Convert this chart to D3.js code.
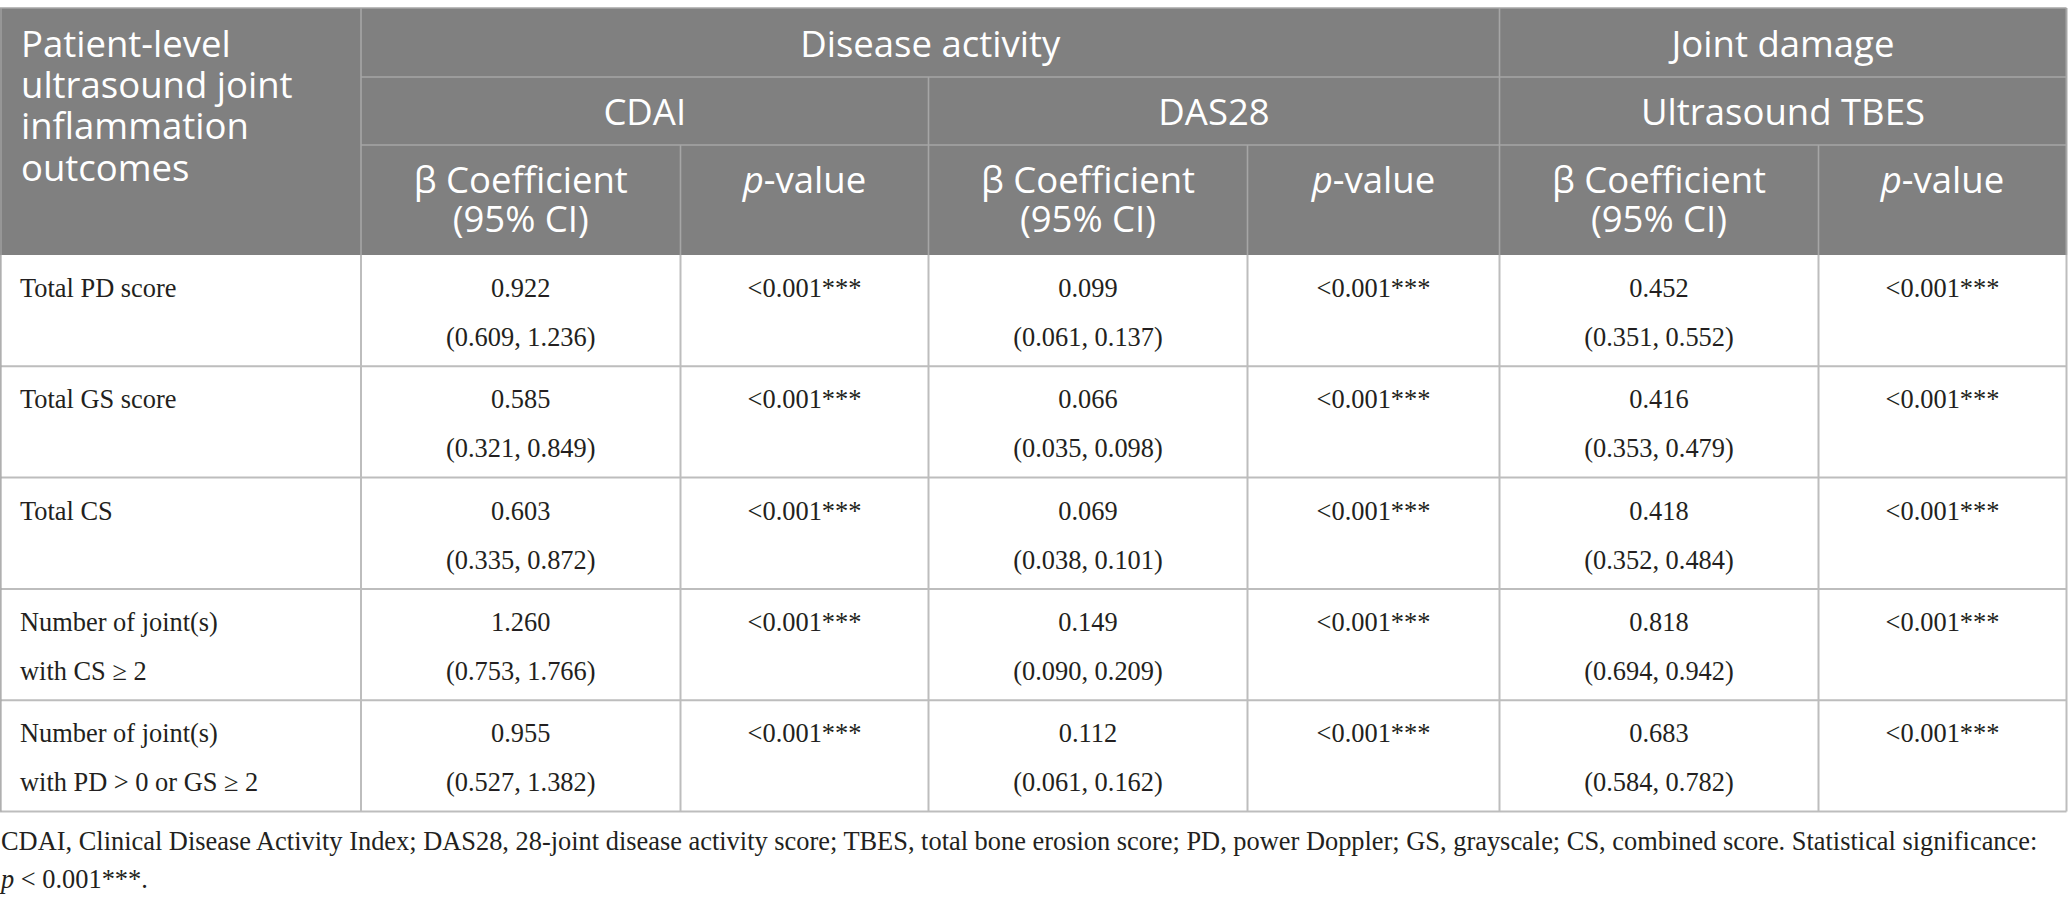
<!DOCTYPE html>
<html>
<head>
<meta charset="utf-8">
<script src="https://cdn.jsdelivr.net/npm/d3@7/dist/d3.min.js"></script>
<style>
  html, body { margin: 0; padding: 0; background: #ffffff; }
  svg { display: block; }
</style>
</head>
<body>
<script>
// ---------------- DATA ----------------
const rowLabels = [
  ["Total PD score"],
  ["Total GS score"],
  ["Total CS"],
  ["Number of joint(s)", "with CS \u2265 2"],
  ["Number of joint(s)", "with PD > 0 or GS \u2265 2"]
];
const cdaiBeta  = ["0.922", "0.585", "0.603", "1.260", "0.955"];
const cdaiCI    = ["(0.609, 1.236)", "(0.321, 0.849)", "(0.335, 0.872)", "(0.753, 1.766)", "(0.527, 1.382)"];
const cdaiP     = ["<0.001***", "<0.001***", "<0.001***", "<0.001***", "<0.001***"];
const das28Beta = ["0.099", "0.066", "0.069", "0.149", "0.112"];
const das28CI   = ["(0.061, 0.137)", "(0.035, 0.098)", "(0.038, 0.101)", "(0.090, 0.209)", "(0.061, 0.162)"];
const das28P    = ["<0.001***", "<0.001***", "<0.001***", "<0.001***", "<0.001***"];
const tbesBeta  = ["0.452", "0.416", "0.418", "0.818", "0.683"];
const tbesCI    = ["(0.351, 0.552)", "(0.353, 0.479)", "(0.352, 0.484)", "(0.694, 0.942)", "(0.584, 0.782)"];
const tbesP     = ["<0.001***", "<0.001***", "<0.001***", "<0.001***", "<0.001***"];

const stubHeader = ["Patient-level", "ultrasound joint", "inflammation", "outcomes"];
const groupHeaders = ["Disease activity", "Joint damage"];
const outcomeHeaders = ["CDAI", "DAS28", "Ultrasound TBES"];
const statHeaders = ["\u03B2 Coefficient|(95% CI)", "p-value"];
const footnoteLine1 = "CDAI, Clinical Disease Activity Index; DAS28, 28-joint disease activity score; TBES, total bone erosion score; PD, power Doppler; GS, grayscale; CS, combined score. Statistical significance:";
const footnoteLine2 = " < 0.001***.";

// ---------------- LAYOUT ----------------
const W = 2068, H = 908;
const colEdges = [0, 361, 680.5, 928.5, 1247.5, 1499.5, 1818.5, 2066.5];
const headTop = 8, head1 = 77, head2 = 145, headBottom = 255, tableBottom = 811.5;
const headFill = "#808080", headLine = "#a6a6a6", bodyLine = "#bdbdbd", ink = "#231f20";
const sansFont = "'Open Sans', 'Noto Sans', sans-serif";
const serifFont = "'Liberation Serif', 'DejaVu Serif', serif";

const svg = d3.select("body").append("svg").attr("width", W).attr("height", H);

// row band scale for body
const rowScale = d3.scaleBand().domain(d3.range(rowLabels.length)).range([headBottom, tableBottom]);
// column scales
const colX = d3.scaleOrdinal().domain(d3.range(colEdges.length)).range(colEdges);
const colMid = i => (colX(i) + colX(i + 1)) / 2;

// header background
svg.append("rect").attr("x", 0).attr("y", headTop).attr("width", colX(7)).attr("height", headBottom - headTop)
  .attr("fill", headFill);

// header lines
const hl = svg.append("g").attr("stroke", headLine).attr("stroke-width", 1.6);
hl.append("line").attr("x1", 0).attr("x2", colX(7)).attr("y1", headTop).attr("y2", headTop);
hl.append("line").attr("x1", colX(1)).attr("x2", colX(7)).attr("y1", head1).attr("y2", head1);
hl.append("line").attr("x1", colX(1)).attr("x2", colX(7)).attr("y1", head2).attr("y2", head2);
hl.append("line").attr("x1", colX(1)).attr("x2", colX(1)).attr("y1", headTop).attr("y2", headBottom);
hl.append("line").attr("x1", colX(5)).attr("x2", colX(5)).attr("y1", headTop).attr("y2", headBottom);
hl.append("line").attr("x1", colX(3)).attr("x2", colX(3)).attr("y1", head1).attr("y2", headBottom);
[2, 4, 6].forEach(i => hl.append("line").attr("x1", colX(i)).attr("x2", colX(i)).attr("y1", head2).attr("y2", headBottom));

// body lines
const bl = svg.append("g").attr("stroke", bodyLine).attr("stroke-width", 2);
rowLabels.forEach((d, i) => {
  const y = rowScale(i) + rowScale.bandwidth();
  bl.append("line").attr("x1", 0).attr("x2", colX(7)).attr("y1", y).attr("y2", y);
});
d3.range(colEdges.length).forEach(i => {
  bl.append("line").attr("x1", colX(i)).attr("x2", colX(i)).attr("y1", headBottom).attr("y2", tableBottom);
});
bl.append("line").attr("x1", 1).attr("x2", 1).attr("y1", headTop).attr("y2", tableBottom).attr("stroke", headLine).attr("stroke-width", 1.2);
bl.append("line").attr("x1", colX(7)).attr("x2", colX(7)).attr("y1", headTop).attr("y2", headBottom).attr("stroke", headLine);

// helper: multi-line text as one text element with tspans
function multiline(g, x, y, lines, dy, anchor) {
  const t = g.append("text").attr("x", x).attr("y", y).attr("text-anchor", anchor || "start");
  lines.forEach((s, j) => t.append("tspan").attr("x", x).attr("dy", j ? dy : 0).text(s));
  return t;
}

// header text
const ht = svg.append("g").attr("fill", "#ffffff").attr("font-family", sansFont).attr("font-size", 36.5);
multiline(ht, 21, 57, stubHeader, 41.2);
ht.append("text").attr("x", (colX(1) + colX(5)) / 2).attr("y", 56.5).attr("text-anchor", "middle").text(groupHeaders[0]);
ht.append("text").attr("x", (colX(5) + colX(7)) / 2).attr("y", 56.5).attr("text-anchor", "middle").text(groupHeaders[1]);
outcomeHeaders.forEach((t, k) => {
  ht.append("text").attr("x", (colX(1 + 2 * k) + colX(3 + 2 * k)) / 2).attr("y", 125).attr("text-anchor", "middle").text(t);
});
[1, 3, 5].forEach(c => {
  multiline(ht, colMid(c), 193, statHeaders[0].split("|"), 38.5, "middle");
  const pt = ht.append("text").attr("x", colMid(c + 1)).attr("y", 193).attr("text-anchor", "middle");
  pt.append("tspan").attr("font-style", "italic").text(statHeaders[1].charAt(0));
  pt.append("tspan").text(statHeaders[1].slice(1));
});

// body text
const bt = svg.append("g").attr("fill", ink).attr("font-family", serifFont).attr("font-size", 26.4);
const line1 = 42, line2 = 91;
const groups = [[cdaiBeta, cdaiCI, cdaiP], [das28Beta, das28CI, das28P], [tbesBeta, tbesCI, tbesP]];
rowLabels.forEach((lab, i) => {
  const top = rowScale(i);
  multiline(bt, 20, top + line1, lab, line2 - line1);
  groups.forEach((g, k) => {
    const cB = 1 + 2 * k, cP = 2 + 2 * k;
    multiline(bt, colMid(cB), top + line1, [g[0][i], g[1][i]], line2 - line1, "middle");
    bt.append("text").attr("x", colMid(cP)).attr("y", top + line1).attr("text-anchor", "middle").text(g[2][i]);
  });
});

// footnote
const ft = svg.append("g").attr("fill", ink).attr("font-family", serifFont).attr("font-size", 26.4);
const f1 = ft.append("text").attr("x", 1).attr("y", 850);
f1.append("tspan").text(footnoteLine1);
f1.append("tspan").attr("x", 1).attr("dy", 38).attr("font-style", "italic").text("p");
f1.append("tspan").text(footnoteLine2);
</script>
</body>
</html>
